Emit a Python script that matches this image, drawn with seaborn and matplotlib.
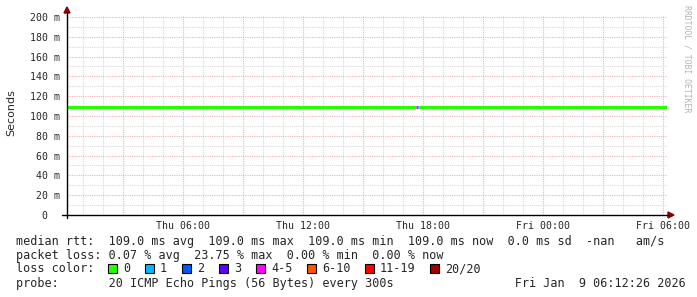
import matplotlib
matplotlib.use("Agg")
import matplotlib.pyplot as plt
import matplotlib.patches as mpatches
import numpy as np
import pandas as pd
import seaborn as sns

# ---------------- data ----------------
# time axis in hours since Thu 00:00 ; window = last 30 h ending Fri 06:12:26
t_start = 0.2072
t_end = 30.2072
x_tick_hours = [6, 12, 18, 24, 30]
x_tick_labels = ["Thu 06:00", "Thu 12:00", "Thu 18:00", "Fri 00:00", "Fri 06:00"]
y_tick_values = [0, 0.02, 0.04, 0.06, 0.08, 0.10, 0.12, 0.14, 0.16, 0.18, 0.20]
y_tick_labels = ["0  ", "20 m", "40 m", "60 m", "80 m", "100 m", "120 m",
                 "140 m", "160 m", "180 m", "200 m"]

# median rtt segments (seconds) coloured by number of lost pings
seg_start = [0.2072, 17.64, 17.76, 17.81]
seg_end = [17.64, 17.76, 17.81, 30.2072]
seg_median = [0.109, 0.109, 0.109, 0.109]
seg_loss_class = ["0", "4-5", "1", "0"]

loss_labels = ["0", "1", "2", "3", "4-5", "6-10", "11-19", "20/20"]
loss_colors = ["#26ff00", "#00b8ff", "#0059ff", "#5e00ff", "#ff00ff",
               "#ff5500", "#ff0000", "#a00000"]

legend_lines = [
    "median rtt:  109.0 ms avg  109.0 ms max  109.0 ms min  109.0 ms now  0.0 ms sd  -nan   am/s",
    "packet loss: 0.07 % avg  23.75 % max  0.00 % min  0.00 % now",
    "loss color:",
    "probe:       20 ICMP Echo Pings (56 Bytes) every 300s                 Fri Jan  9 06:12:26 2026",
]

# ---------------- figure ----------------
sns.set_style("white")
plt.rcParams["font.family"] = ["DejaVu Sans Mono", "DejaVu Sans"]

W, H = 697, 297
fig = plt.figure(figsize=(W / 100, H / 100), dpi=100)
fig.patch.set_facecolor("white")

ax_l, ax_r, ax_t, ax_b = 67, 667, 15, 215
ax = fig.add_axes([ax_l / W, (H - ax_b) / H, (ax_r - ax_l) / W, (ax_b - ax_t) / H])
ax.set_facecolor("white")
ax.set_xlim(t_start, t_end)
ax.set_ylim(0, 0.2 * 200 / 198)

# grid
minor_col = "#d9d9d9"
major_col = "#efb4b4"
for h in range(1, 31):
    if t_start < h < t_end:
        ax.axvline(h, color=major_col if h % 3 == 0 else minor_col,
                   lw=0.8, ls=(0, (1, 1)), zorder=0)
for v in np.arange(0.01, 0.201, 0.01):
    ax.axhline(v, color=major_col if round(v * 100) % 2 == 0 else minor_col,
               lw=0.8, ls=(0, (1, 1)), zorder=0)

# data line
rows = []
for i, (a, b, m, c) in enumerate(zip(seg_start, seg_end, seg_median, seg_loss_class)):
    rows.append({"hour": a, "rtt": m, "seg": f"s{i}", "loss": c})
    rows.append({"hour": b, "rtt": m, "seg": f"s{i}", "loss": c})
df = pd.DataFrame(rows)
cmap = dict(zip(loss_labels, loss_colors))
pal = {f"s{i}": cmap[c] for i, c in enumerate(seg_loss_class)}
sns.lineplot(data=df, x="hour", y="rtt", hue="seg", palette=pal, legend=False,
             lw=2.2, ax=ax, estimator=None, sort=False, zorder=3,
             solid_capstyle="butt")

for s in ax.spines.values():
    s.set_visible(False)

ax.set_xticks(x_tick_hours)
ax.set_xticklabels(x_tick_labels, fontsize=7.1, family="DejaVu Sans Mono")
ax.set_yticks(y_tick_values)
ax.set_yticklabels(y_tick_labels, fontsize=7.1, family="DejaVu Sans Mono")
ax.tick_params(axis="x", length=0, pad=4.5)
ax.tick_params(axis="y", length=0, pad=5)
ax.set_xlabel("")
ax.set_ylabel("")

# axis lines and arrows (pixel coords -> figure fraction)
def fx(px):
    return px / W

def fy(py):
    return 1 - py / H

fig.add_artist(plt.Line2D([fx(62), fx(669)], [fy(215), fy(215)], color="black", lw=1.0))
fig.add_artist(plt.Line2D([fx(67), fx(67)], [fy(218), fy(12)], color="black", lw=1.0))
arrow_col = "#8b0000"
fig.add_artist(mpatches.Polygon([[fx(64), fy(13)], [fx(70), fy(13)], [fx(67), fy(7)]],
                                closed=True, color=arrow_col, transform=fig.transFigure))
fig.add_artist(mpatches.Polygon([[fx(668), fy(212)], [fx(668), fy(218)], [fx(674), fy(215)]],
                                closed=True, color=arrow_col, transform=fig.transFigure))

# y label
fig.text(fx(11), fy(113), "Seconds", rotation=90, ha="center", va="center",
         fontsize=8, family="DejaVu Sans")

# watermark
fig.text(fx(687), fy(5), "RRDTOOL / TOBI OETIKER", rotation=-90, ha="center", va="top",
         fontsize=5.9, color="#b4b4b4", family="DejaVu Sans Mono")

# legend text
baselines = [245, 259, 272.5, 287]
for line, b in zip(legend_lines, baselines):
    fig.text(fx(16), fy(b), line, ha="left", va="baseline", fontsize=8.5,
             family="DejaVu Sans Mono")

box_x = [108, 145, 182, 219, 256, 307, 365, 430]
for bx, lab, col in zip(box_x, loss_labels, loss_colors):
    fig.add_artist(mpatches.Rectangle((fx(bx), fy(273)), 9 / W, 9 / H,
                                      facecolor=col, edgecolor="black", lw=0.8,
                                      transform=fig.transFigure))
    fig.text(fx(bx + 15), fy(baselines[2]), lab, ha="left", va="baseline",
             fontsize=8.5, family="DejaVu Sans Mono")

fig.savefig("out.png", dpi=100, facecolor="white")
